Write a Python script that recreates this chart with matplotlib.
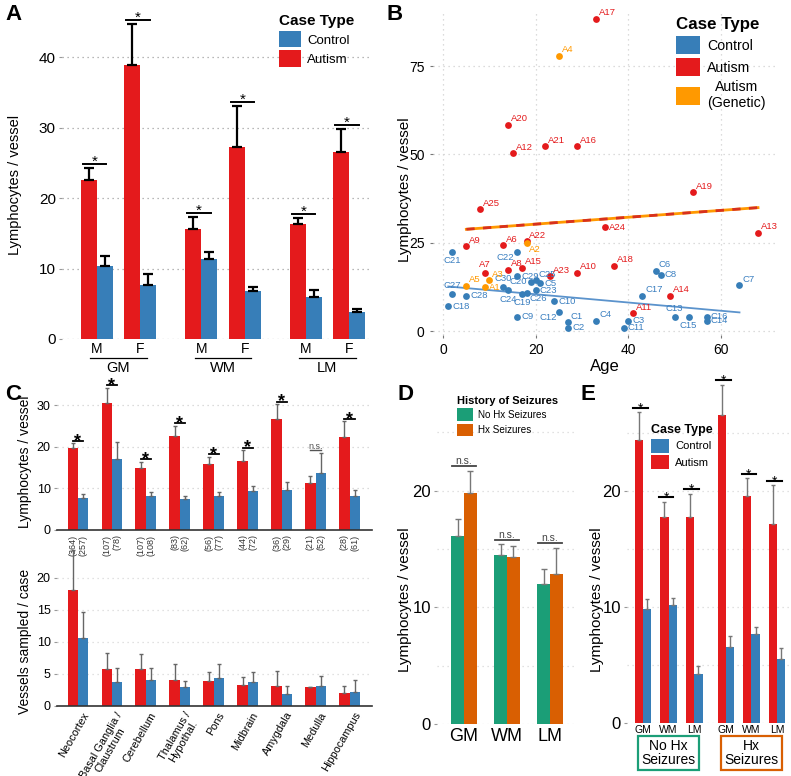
import numpy as np
import matplotlib
matplotlib.use('Agg')
import matplotlib.pyplot as plt
from matplotlib.patches import Patch
from matplotlib.ticker import MultipleLocator

plt.rcParams['font.family'] = ['Liberation Sans', 'DejaVu Sans']

#------------------
# Data
#------------------

# A - lymphocytes per vessel by sex and region
a_regions = ['GM', 'WM', 'LM']
a_sex = ['M', 'F', 'M', 'F', 'M', 'F']
a_autism = [22.6, 38.9, 15.6, 27.3, 16.3, 26.6]
a_autism_err = [1.7, 5.8, 1.7, 5.8, 0.9, 3.2]
a_control = [10.3, 7.6, 11.3, 6.8, 6.0, 3.8]
a_control_err = [1.5, 1.7, 1.1, 0.6, 1.0, 0.5]

# B - lymphocytes per vessel vs age
ctl_ids = ['C21', 'C22', 'C27', 'C18', 'C28', 'C30', 'C24', 'C29', 'C20', 'C25',
           'C5', 'C19', 'C26', 'C23', 'C10', 'C9', 'C12', 'C1', 'C2', 'C4',
           'C3', 'C11', 'C17', 'C6', 'C8', 'C13', 'C15', 'C16', 'C14', 'C7']
ctl_age = [2, 16, 2, 1.1, 5, 13, 14, 16, 19, 20,
           21, 17.1, 18, 20, 24, 16, 25.1, 27, 27, 33.1,
           40, 39, 43, 46, 47, 50, 53, 56.9, 56.9, 64]
ctl_val = [22.4, 22.4, 10.5, 7.0, 10.0, 12.4, 11.5, 15.5, 14.0, 14.5,
           13.5, 10.5, 10.9, 11.5, 8.5, 4.0, 5.5, 2.5, 0.9, 3.0,
           3.0, 0.9, 10.0, 17.1, 15.9, 4.0, 4.0, 4.0, 2.9, 13.0]
aut_ids = ['A17', 'A20', 'A12', 'A21', 'A16', 'A19', 'A25', 'A24', 'A13', 'A9',
           'A6', 'A22', 'A7', 'A8', 'A15', 'A23', 'A10', 'A18', 'A14', 'A11']
aut_age = [33.1, 14, 15.1, 22, 29, 54, 8, 35, 68, 5,
           13, 18, 9.1, 14, 17.1, 23.1, 29, 37, 49, 41.1]
aut_val = [88.4, 58.4, 50.4, 52.4, 52.4, 39.4, 34.5, 29.4, 27.9, 24.0,
           24.4, 25.5, 16.4, 17.4, 18.0, 15.5, 16.5, 18.5, 10.0, 5.0]
gen_ids = ['A4', 'A2', 'A3', 'A5', 'A1']
gen_age = [25.1, 18, 10, 5, 9.1]
gen_val = [78.0, 24.9, 14.4, 12.9, 12.4]

# C - by brain region
c_regions = ['Neocortex', 'Basal Ganglia /\nClaustrum', 'Cerebellum', 'Thalamus /\nHypothal.',
             'Pons', 'Midbrain', 'Amygdala', 'Medulla', 'Hippocampus']
c_aut_lym = [19.6, 30.6, 15.0, 22.6, 15.8, 16.5, 26.6, 11.4, 22.4]
c_aut_lym_err = [1.2, 3.6, 1.4, 2.4, 1.8, 2.7, 3.6, 1.6, 3.7]
c_ctl_lym = [7.8, 17.1, 8.2, 7.4, 8.2, 9.4, 9.7, 13.8, 8.2]
c_ctl_lym_err = [0.8, 4.0, 0.9, 0.8, 1.0, 1.2, 1.8, 4.8, 1.3]
c_sig = ['*', '*', '*', '*', '*', '*', '*', 'n.s.', '*']
c_aut_n = [364, 107, 107, 83, 56, 44, 36, 21, 28]
c_ctl_n = [257, 78, 108, 62, 77, 72, 29, 52, 61]
c_aut_ves = [18.1, 5.8, 5.8, 4.1, 3.9, 3.3, 3.2, 2.9, 2.1]
c_aut_ves_err = [6.2, 2.5, 2.4, 2.5, 1.4, 1.3, 2.2, 0.1, 1.1]
c_ctl_ves = [10.7, 3.7, 4.1, 2.9, 4.3, 3.7, 1.9, 3.1, 2.2]
c_ctl_ves_err = [4.0, 2.3, 1.9, 1.0, 2.2, 1.6, 1.2, 1.6, 1.8]

# D - autism cases by seizure history
d_regions = ['GM', 'WM', 'LM']
d_nohx = [16.1, 14.5, 12.0]
d_nohx_err = [1.5, 0.9, 1.3]
d_hx = [19.8, 14.3, 12.9]
d_hx_err = [1.9, 1.0, 2.2]

# E - autism vs control split by seizure history
e_regions = ['GM', 'WM', 'LM', 'GM', 'WM', 'LM']
e_groups = ['No Hx\nSeizures', 'Hx\nSeizures']
e_aut = [24.4, 17.8, 17.8, 26.6, 19.6, 17.2]
e_aut_err = [2.4, 1.3, 2.0, 2.6, 1.5, 3.3]
e_ctl = [9.8, 10.2, 4.2, 6.6, 7.7, 5.5]
e_ctl_err = [0.9, 0.6, 0.7, 0.9, 0.6, 1.0]

#------------------
# Style
#------------------

RED = '#e41a1c'
BLUE = '#377eb8'
ORANGE = '#ff9900'
GREEN = '#1b9e77'
DORANGE = '#d95f02'
GRID = '#b8b8b8'

W, H = 791, 776
fig = plt.figure(figsize=(W / 100, H / 100), dpi=100)


def add_ax(x0, y0, x1, y1):
    # axes from pixel box (top-left origin)
    return fig.add_axes([x0 / W, 1 - y1 / H, (x1 - x0) / W, (y1 - y0) / H])


def clean(ax, grid_color=GRID):
    for s in ax.spines.values():
        s.set_visible(False)
    ax.grid(axis='y', which='both', linestyle=(0, (1, 3)), color=grid_color, lw=0.9)
    ax.set_axisbelow(True)
    ax.tick_params(axis='y', length=2.5, color='#999999', pad=2)
    ax.tick_params(axis='x', length=0)


def ylabel_at(ax, text, x, y, size):
    ax.set_ylabel(text, fontsize=size)
    ax.yaxis.set_label_coords(x / W, 1 - y / H, transform=fig.transFigure)


def legend_at(ax, handles, labels, title, x, y, fs, tfs, hl, hh, ls):
    leg = ax.legend(handles, labels, title=title, loc='upper left',
                    bbox_to_anchor=(x / W, 1 - y / H), bbox_transform=fig.transFigure,
                    frameon=False, fontsize=fs, title_fontproperties={'weight': 'bold', 'size': tfs},
                    handlelength=hl, handleheight=hh, labelspacing=ls, handletextpad=0.5,
                    borderpad=0, borderaxespad=0, alignment='left')
    return leg


def upper_err(ax, x, y, err, color, lw, cap):
    ax.errorbar(x, y, yerr=[np.zeros(len(err)), err], fmt='none', ecolor=color,
                elinewidth=lw, capsize=cap, capthick=lw)


def sig_mark(ax, x, h, half, text, lw, fs, dy, weight='normal', color='black'):
    ax.plot([x - half, x + half], [h, h], color=color, lw=lw, clip_on=False)
    ax.annotate(text, (x, h), xytext=(0, dy), textcoords='offset points',
                ha='center', va='baseline', fontsize=fs, fontweight=weight,
                color=color, annotation_clip=False)


case_handles = [Patch(facecolor=BLUE), Patch(facecolor=RED)]

#------------------
# Panel A
#------------------

ax = add_ax(62, 8, 370, 339)
clean(ax, '#a0a0a0')
pos_a = np.array([0, 1, 2.4, 3.4, 4.8, 5.8])
w = 0.37
ax.bar(pos_a - w / 2, a_autism, w, color=RED)
ax.bar(pos_a + w / 2, a_control, w, color=BLUE)
upper_err(ax, pos_a - w / 2, a_autism, a_autism_err, 'black', 1.6, 3.5)
upper_err(ax, pos_a + w / 2, a_control, a_control_err, 'black', 1.6, 3.5)
for i, p in enumerate(pos_a):
    h = a_autism[i] + a_autism_err[i] + 0.6
    sig_mark(ax, p - 0.05, h, 0.27, '*', 1.4, 11, -1.5)
ax.set_xlim(-0.8, 6.28)
ax.set_ylim(0, 47)
ax.set_yticks([0, 10, 20, 30, 40])
ax.tick_params(axis='y', labelsize=11)
ax.set_xticks(pos_a, a_sex, fontsize=10)
ax.tick_params(axis='x', pad=2)
xt = ax.get_xaxis_transform()
for k, reg in enumerate(a_regions):
    x0, x1 = pos_a[2 * k] - 0.15, pos_a[2 * k + 1] + 0.15
    ax.plot([x0, x1], [-0.058, -0.058], transform=xt, color='black', lw=0.9, clip_on=False)
    ax.text((x0 + x1) / 2, -0.088, reg, transform=xt, ha='center', va='center', fontsize=10.5)
ylabel_at(ax, 'Lymphocytes / vessel', 22, 185, 10.5)
legend_at(ax, case_handles, ['Control', 'Autism'], 'Case Type', 279, 14, 9.5, 11, 1.65, 1.55, 0.22)

#------------------
# Panel B
#------------------

ax = add_ax(433, 10, 777, 335)
for s in ax.spines.values():
    s.set_visible(False)
ax.grid(True, linestyle=(0, (1, 3)), color='#d0d0d0', lw=0.9)
ax.set_axisbelow(True)
ax.tick_params(length=2.5, color='#777777', labelsize=10)

# label placement around points: code -> (dx, dy, ha, va) in points
place = {
    'ur': (2, 1, 'left', 'bottom'), 'r': (3, 0, 'left', 'center'),
    'dr': (2, -1, 'left', 'top'), 'u': (0, 3, 'center', 'bottom'),
    'd': (0, -3, 'center', 'top'), 'l': (-3, 0, 'right', 'center'),
    'dl': (-2, -1, 'right', 'top'), 'ul': (-2, 1, 'right', 'bottom'),
}
label_pos = {
    'A2': 'dr', 'A24': 'r', 'A1': 'r', 'A7': 'u',
    'C21': 'd', 'C22': 'dl', 'C27': 'u', 'C18': 'r', 'C28': 'r', 'C30': 'u',
    'C24': 'd', 'C29': 'r', 'C20': 'l', 'C5': 'r', 'C19': 'd', 'C26': 'dr',
    'C23': 'r', 'C10': 'r', 'C9': 'r', 'C12': 'dl', 'C2': 'r', 'C3': 'r',
    'C11': 'r', 'C8': 'r', 'C13': 'u', 'C15': 'd', 'C14': 'r', 'C16': 'r',
}
series = [(ctl_ids, ctl_age, ctl_val, BLUE, '#3a7fc0'),
          (aut_ids, aut_age, aut_val, RED, RED),
          (gen_ids, gen_age, gen_val, ORANGE, ORANGE)]

# trend lines fitted to the points
cx = np.array(ctl_age)
cf = np.polyfit(cx, ctl_val, 1)
xs = np.array([cx.min(), cx.max()])
ax.plot(xs, np.polyval(cf, xs), color='#5b93cc', lw=1.3, zorder=2)
ax_all = np.array(aut_age + gen_age)
af = np.polyfit(ax_all, aut_val + gen_val, 1)
xs = np.array([ax_all.min(), ax_all.max()])
ax.plot(xs, np.polyval(af, xs), color=ORANGE, lw=2, zorder=2)
ax.plot(xs, np.polyval(af, xs), color='#d7301f', lw=2, dashes=(3, 3), zorder=2)

for ids, ages, vals, col, tcol in series:
    ax.scatter(ages, vals, s=24, color=col, zorder=3, linewidths=0)
    for name, xv, yv in zip(ids, ages, vals):
        dx, dy, ha, va = place[label_pos.get(name, 'ur')]
        ax.annotate(name, (xv, yv), xytext=(dx, dy), textcoords='offset points',
                    ha=ha, va=va, fontsize=6.8, color=tcol, zorder=4)

ax.set_xlim(-2.2, 72.1)
ax.set_ylim(-1.1, 90.9)
ax.set_xticks([0, 20, 40, 60])
ax.set_yticks([0, 25, 50, 75])
ax.set_xlabel('Age', fontsize=12, labelpad=1)
ylabel_at(ax, 'Lymphocytes / vessel', 412, 190, 11)
legend_at(ax, case_handles + [Patch(facecolor=ORANGE)],
          ['Control', 'Autism', 'Autism\n(Genetic)'], 'Case Type',
          676, 17, 10.2, 12.2, 1.7, 1.55, 0.3)
leg = ax.get_legend()
leg.get_texts()[2].set_multialignment('center')

#------------------
# Panel C (top): lymphocytes per vessel
#------------------

pos_c = np.arange(len(c_regions))
wc = 0.3
ax = add_ax(57, 380, 372, 530)
clean(ax, '#d0d0d0')
ax.spines['bottom'].set_visible(True)
ax.spines['bottom'].set_color('#333333')
ax.spines['bottom'].set_linewidth(1.2)
ax.bar(pos_c - wc / 2, c_aut_lym, wc, color=RED)
ax.bar(pos_c + wc / 2, c_ctl_lym, wc, color=BLUE)
upper_err(ax, pos_c - wc / 2, c_aut_lym, c_aut_lym_err, '#666666', 1, 1.5)
upper_err(ax, pos_c + wc / 2, c_ctl_lym, c_ctl_lym_err, '#666666', 1, 1.5)
for i, p in enumerate(pos_c):
    h = max(c_aut_lym[i] + c_aut_lym_err[i], c_ctl_lym[i] + c_ctl_lym_err[i]) + 0.6
    if c_sig[i] == '*':
        sig_mark(ax, p, h, 0.15, '*', 1.3, 13, -3.5, weight='bold')
    else:
        sig_mark(ax, p, h, 0.15, 'n.s.', 1.0, 6.5, 1, color='#555555')
xt = ax.get_xaxis_transform()
for i, p in enumerate(pos_c):
    ax.text(p - wc / 2, -0.03, f'({c_aut_n[i]})', transform=xt, rotation=90,
            ha='center', va='top', fontsize=6.5, color='#333333')
    ax.text(p + wc / 2, -0.03, f'({c_ctl_n[i]})', transform=xt, rotation=90,
            ha='center', va='top', fontsize=6.5, color='#333333')
ax.set_xlim(-0.61, 8.66)
ax.set_ylim(0, 36)
ax.set_yticks([0, 10, 20, 30])
ax.set_xticks([])
ax.tick_params(axis='y', labelsize=9)
ylabel_at(ax, 'Lymphocytes / vessel', 32, 462, 10)

#------------------
# Panel C (bottom): vessels sampled per case
#------------------

ax = add_ax(57, 546, 372, 706)
ax.patch.set_visible(False)
clean(ax, '#d8d8d8')
ax.spines['bottom'].set_visible(True)
ax.spines['bottom'].set_color('#333333')
ax.spines['bottom'].set_linewidth(1.2)
ax.bar(pos_c - wc / 2, c_aut_ves, wc, color=RED)
ax.bar(pos_c + wc / 2, c_ctl_ves, wc, color=BLUE)
upper_err(ax, pos_c - wc / 2, c_aut_ves, c_aut_ves_err, '#666666', 1, 1.5)
upper_err(ax, pos_c + wc / 2, c_ctl_ves, c_ctl_ves_err, '#666666', 1, 1.5)
ax.set_xlim(-0.61, 8.66)
ax.set_ylim(0, 25)
ax.set_yticks([0, 5, 10, 15, 20])
ax.tick_params(axis='y', labelsize=9)
ax.set_xticks(pos_c + 0.12, c_regions, rotation=60, ha='right', rotation_mode='anchor',
              fontsize=7.8, multialignment='center', linespacing=1.0)
ax.tick_params(axis='x', pad=3)
ylabel_at(ax, 'Vessels sampled / case', 32, 641, 10)

#------------------
# Panel D
#------------------

pos_d = np.arange(len(d_regions))
wd = 0.3
ax = add_ax(437, 395, 577, 724)
clean(ax, '#d8d8d8')
ax.yaxis.set_minor_locator(MultipleLocator(5))
ax.tick_params(axis='y', which='minor', length=0)
ax.bar(pos_d - wd / 2, d_nohx, wd, color=GREEN)
ax.bar(pos_d + wd / 2, d_hx, wd, color=DORANGE)
upper_err(ax, pos_d - wd / 2, d_nohx, d_nohx_err, '#777777', 1, 2)
upper_err(ax, pos_d + wd / 2, d_hx, d_hx_err, '#777777', 1, 2)
for i, p in enumerate(pos_d):
    h = max(d_nohx[i] + d_nohx_err[i], d_hx[i] + d_hx_err[i]) + 0.4
    sig_mark(ax, p, h, 0.27, 'n.s.', 1.3, 7.5, 1.5, color='#444444')
ax.set_xlim(-0.63, 2.63)
ax.set_ylim(0, 28.2)
ax.set_yticks([0, 10, 20])
ax.tick_params(axis='y', labelsize=12)
ax.set_xticks(pos_d, d_regions, fontsize=13)
ax.tick_params(axis='x', pad=3)
ylabel_at(ax, 'Lymphocytes / vessel', 412, 600, 11)
legend_at(ax, [Patch(facecolor=GREEN), Patch(facecolor=DORANGE)],
          ['No Hx Seizures', 'Hx Seizures'], 'History of Seizures',
          457, 396, 7.1, 8, 1.65, 1.6, 0.25)

#------------------
# Panel E
#------------------

pos_e = np.array([0, 1, 2, 3.25, 4.25, 5.25])
we = 0.33
ax = add_ax(627, 380, 790, 723)
clean(ax, '#d8d8d8')
ax.yaxis.set_minor_locator(MultipleLocator(5))
ax.tick_params(axis='y', which='minor', length=0)
ax.bar(pos_e - we / 2, e_aut, we, color=RED)
ax.bar(pos_e + we / 2, e_ctl, we, color=BLUE)
upper_err(ax, pos_e - we / 2, e_aut, e_aut_err, '#777777', 1, 1.5)
upper_err(ax, pos_e + we / 2, e_ctl, e_ctl_err, '#777777', 1, 1.5)
for i, p in enumerate(pos_e):
    h = e_aut[i] + e_aut_err[i] + 0.4
    sig_mark(ax, p - 0.1, h, 0.28, '*', 1.5, 10, -3.3)
ax.set_xlim(-0.63, 5.76)
ax.set_ylim(0, 29.6)
ax.set_yticks([0, 10, 20])
ax.tick_params(axis='y', labelsize=12)
ax.set_xticks(pos_e, e_regions, fontsize=7.5)
ax.tick_params(axis='x', pad=1.5)
xt = ax.get_xaxis_transform()
for k, (grp, col) in enumerate(zip(e_groups, [GREEN, DORANGE])):
    xc = pos_e[3 * k + 1]
    ax.text(xc, -0.087, grp, transform=xt, ha='center', va='center', fontsize=10,
            linespacing=1.0, bbox=dict(boxstyle='square,pad=0.22', fc='white', ec=col, lw=1.6))
ylabel_at(ax, 'Lymphocytes / vessel', 604, 600, 11)
legend_at(ax, case_handles, ['Control', 'Autism'], 'Case Type',
          651, 424, 8, 9, 1.65, 1.55, 0.25)

#------------------
# Panel letters
#------------------

for letter, x, y in [('A', 5, 4), ('B', 387, 4), ('C', 5, 384), ('D', 398, 384), ('E', 580, 384)]:
    fig.text(x / W, 1 - y / H, letter, fontsize=16, fontweight='bold', ha='left', va='top')

fig.savefig('out.png', dpi=100)
